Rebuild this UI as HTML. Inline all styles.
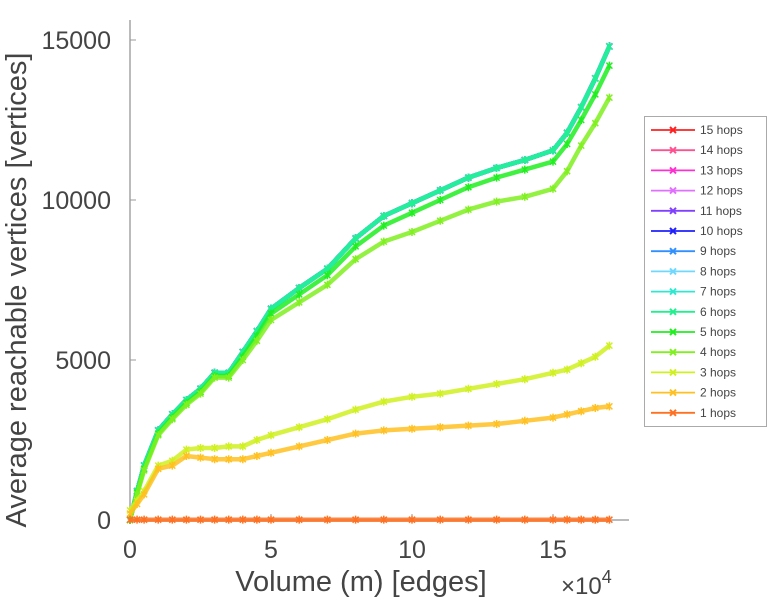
<!DOCTYPE html>
<html><head><meta charset="utf-8"><style>
html,body{margin:0;padding:0;background:#fff;width:768px;height:600px;overflow:hidden}
svg text{font-family:"Liberation Sans",sans-serif;fill:#444}
</style></head><body>
<svg id="chart" width="768" height="600" viewBox="0 0 768 600" xmlns="http://www.w3.org/2000/svg">
<g id="axes"></g><g id="series"></g><g id="legend"></g>
</svg>
<script>
const xs = [0,0.25,0.5,1,1.5,2,2.5,3,3.5,4,4.5,5,6,7,8,9,10,11,12,13,14,15,15.5,16,16.5,17];
const upper = [0,900,1700,2800,3300,3750,4100,4600,4600,5250,5900,6600,7250,7850,8800,9500,9900,10300,10700,11000,11250,11550,12100,12900,13800,14800];
const hop5 = [0,850,1600,2700,3200,3650,4000,4500,4500,5100,5750,6450,7050,7650,8550,9200,9600,10000,10400,10700,10950,11200,11750,12500,13300,14200];
const hop4 = [0,800,1550,2650,3150,3600,3950,4450,4450,5000,5600,6250,6800,7350,8150,8700,9000,9350,9700,9950,10100,10350,10900,11700,12400,13200];
const hop3 = [300,600,900,1700,1850,2200,2250,2250,2300,2300,2500,2650,2900,3150,3450,3700,3850,3950,4100,4250,4400,4600,4700,4900,5100,5450];
const hop2 = [200,500,800,1600,1700,2000,1950,1900,1900,1900,2000,2100,2300,2500,2700,2800,2850,2900,2950,3000,3100,3200,3300,3400,3500,3550];
const hop1 = [10,10,10,10,10,10,10,10,10,10,10,10,10,10,10,10,10,10,10,10,10,10,10,10,10,10];
const seriesNames = ["15 hops","14 hops","13 hops","12 hops","11 hops","10 hops","9 hops","8 hops","7 hops","6 hops","5 hops","4 hops","3 hops","2 hops","1 hops"];
const seriesData = [upper,upper,upper,upper,upper,upper,upper,upper,upper,upper,hop5,hop4,hop3,hop2,hop1];
const colors = ["#ff2020","#ff5090","#ff30d0","#e070ff","#8040ff","#2020ff","#3090ff","#70d8ff","#30e8d0","#20f090","#20ee20","#80f020","#d0f020","#ffc020","#ff7020"];
const yTicks = [0,5000,10000,15000];
const xTicks = [0,5,10,15];
const NS="http://www.w3.org/2000/svg";
const X = v => 130 + v*28.2;
const Y = v => 520 - v*0.032;
function mk(tag,attrs,parent){const e=document.createElementNS(NS,tag);for(const k in attrs)e.setAttribute(k,attrs[k]);parent.appendChild(e);return e;}
const axes=document.getElementById('axes');
let a=mk('line',{x1:130,y1:20,x2:130,y2:520,stroke:'#bbb','stroke-width':2},axes);


a=mk('line',{x1:130,y1:520,x2:629,y2:520,stroke:'#bbb','stroke-width':2},axes);


yTicks.forEach(t=>{
  const l=mk('line',{x1:130,y1:Y(t),x2:136,y2:Y(t),stroke:'#999'},axes);
  
  
  const tx=mk('text',{x:111,y:Y(t)+9,'text-anchor':'end','font-size':25},axes);tx.textContent=t;
  
  
});
xTicks.forEach(t=>{
  const l=mk('line',{x1:X(t),y1:520,x2:X(t),y2:514,stroke:'#999'},axes);
  
  
  const tx=mk('text',{x:X(t),y:558,'text-anchor':'middle','font-size':25},axes);tx.textContent=t;
  
  
});
let t=mk('text',{x:361,y:591,'text-anchor':'middle','font-size':29},axes);t.textContent='Volume (m) [edges]';


t=mk('text',{x:561,y:594,'font-size':24},axes);t.innerHTML='×10<tspan dy="-11" font-size="18">4</tspan>';


t=mk('text',{x:0,y:0,'text-anchor':'middle','font-size':29,transform:'translate(26,290) rotate(-90)'},axes);t.textContent='Average reachable vertices [vertices]';


const sg=document.getElementById('series');
seriesData.forEach((d,i)=>{
  const g=mk('g',{},sg);
  
  
  const pts=d.map((v,j)=>X(xs[j]).toFixed(1)+','+Y(v).toFixed(1)).join(' ');
  mk('polyline',{points:pts,fill:'none',stroke:colors[i],'stroke-width':4.5,'stroke-linejoin':'round',opacity:0.85},g);
  d.forEach((v,j)=>{
    const cx=X(xs[j]),cy=Y(v);
    mk('path',{d:`M${cx-3},${cy-3}L${cx+3},${cy+3}M${cx-3},${cy+3}L${cx+3},${cy-3}M${cx},${cy-4}L${cx},${cy+4}`,stroke:colors[i],'stroke-width':1.5},g);
  });
});
const lg=document.getElementById('legend');
const box=mk('rect',{x:644.5,y:116.5,width:122,height:310,fill:'#fff',stroke:'#aaa'},lg);


seriesNames.forEach((n,i)=>{
  const y=130+i*20.2;
  const g=mk('g',{},lg);
  
  
  mk('line',{x1:651,y1:y,x2:695,y2:y,stroke:colors[i],'stroke-width':1.8},g);
  mk('path',{d:`M${670},${y-3}L${676},${y+3}M${670},${y+3}L${676},${y-3}`,stroke:colors[i],'stroke-width':2},g);
  const tx=mk('text',{x:700,y:y+4,'font-size':12},g);tx.textContent=n;
});
</script>
</body></html>
